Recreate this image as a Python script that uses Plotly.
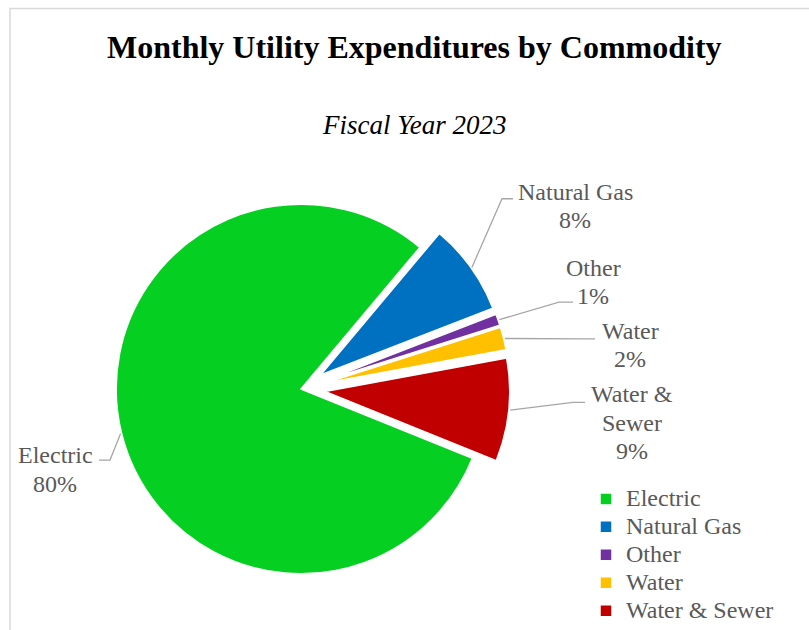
import math
import plotly.graph_objects as go

# ---- data -------------------------------------------------------------
CATEGORIES = ["Electric", "Natural Gas", "Other", "Water", "Water & Sewer"]
SHARE_PCT = [80, 8, 1, 2, 9]
COLORS = ["#05D021", "#0070C0", "#7030A0", "#FFC000", "#C00000"]
PULL = [0, 0.13, 0.13, 0.13, 0.13]

TITLE = "Monthly Utility Expenditures by Commodity"
SUBTITLE = "Fiscal Year 2023"

# ---- layout constants (pixels) ----------------------------------------
W, H = 809, 630
CX, CY, R = 301, 391.5, 186          # pie centre and radius
ROTATION = 112                        # start angle of the first slice (clockwise from 12 o'clock)
LABEL_FONT = 24
LINE_STEP = 28.5
LABEL_COLOR = "#595959"
LEADER_COLOR = "#A6A6A6"
SERIF = "Liberation Serif, Times New Roman, serif"

# label block centre, leader-line elbow and leader-line end
LABEL_BOX = {
    "Electric": dict(center=(55, 472.5), elbow=(110, 463), end=(99, 463)),
    "Natural Gas": dict(center=(575, 207.5), elbow=(502, 200), end=(513, 200)),
    "Other": dict(center=(593, 284), elbow=(559, 304), end=(573, 304)),
    "Water": dict(center=(630, 347.5), elbow=(583, 341), end=(595, 341)),
    "Water & Sewer": dict(center=(632, 425.5), elbow=(573, 405), end=(585, 405)),
}
LABEL_WRAP = {"Water & Sewer": ["Water &", "Sewer"]}


def px(x):
    return x / W


def py(y):
    return 1 - y / H


max_pull = max(PULL)
half_box = R * (1 + max_pull)

legend_names = [f'<span style="font-size:{LABEL_FONT}px">{c}</span>' for c in CATEGORIES]

fig = go.Figure(
    go.Pie(
        labels=legend_names,
        values=SHARE_PCT,
        marker=dict(colors=COLORS, line=dict(color="white", width=1.5)),
        pull=PULL,
        sort=False,
        direction="clockwise",
        rotation=ROTATION,
        textinfo="none",
        hoverinfo="skip",
        domain=dict(
            x=[px(CX - half_box), px(CX + half_box)],
            y=[py(CY + half_box), py(CY - half_box)],
        ),
    )
)

# ---- data labels with leader lines -----------------------------------
total = sum(SHARE_PCT)
annotations = []
shapes = []
start = ROTATION
for name, val, pull in zip(CATEGORIES, SHARE_PCT, PULL):
    span = 360 * val / total
    mid = math.radians(start + span / 2)
    start += span
    reach = R * (1 + pull)
    ax = CX + reach * math.sin(mid)
    ay = CY - reach * math.cos(mid)

    box = LABEL_BOX[name]
    bx, by = box["elbow"]
    ex, ey = box["end"]
    path = f"M{px(ax)},{py(ay)} L{px(bx)},{py(by)} L{px(ex)},{py(ey)}"
    shapes.append(dict(type="path", path=path, xref="paper", yref="paper",
                       line=dict(color=LEADER_COLOR, width=1.3)))

    lines = LABEL_WRAP.get(name, [name]) + [f"{round(100 * val / total)}%"]
    cx, cy = box["center"]
    top = cy - LINE_STEP * (len(lines) - 1) / 2
    for i, txt in enumerate(lines):
        annotations.append(dict(
            text=txt, x=px(cx), y=py(top + i * LINE_STEP),
            xref="paper", yref="paper", xanchor="center", yanchor="middle",
            showarrow=False, font=dict(family=SERIF, size=LABEL_FONT, color=LABEL_COLOR),
        ))

# ---- titles ----------------------------------------------------------
annotations.append(dict(
    text=f"<b>{TITLE}</b>", x=px(415), y=py(47), xref="paper", yref="paper",
    xanchor="center", yanchor="middle", showarrow=False,
    font=dict(family=SERIF, size=32, color="#000000"),
))
annotations.append(dict(
    text=f"<i>{SUBTITLE}</i>", x=px(414), y=py(126), xref="paper", yref="paper",
    xanchor="center", yanchor="middle", showarrow=False,
    font=dict(family=SERIF, size=27, color="#000000"),
))

# chart-area frame
shapes.append(dict(type="rect", xref="paper", yref="paper",
                   x0=px(10), x1=1.05, y0=-0.05, y1=py(8.5),
                   line=dict(color="#D9D9D9", width=1.5)))

fig.update_layout(
    width=W, height=H,
    margin=dict(l=0, r=0, t=0, b=0),
    paper_bgcolor="white", plot_bgcolor="white",
    annotations=annotations,
    shapes=shapes,
    showlegend=True,
    legend=dict(
        x=px(586), y=py(483), xanchor="left", yanchor="top",
        font=dict(family=SERIF, size=19.2, color=LABEL_COLOR),
        bgcolor="rgba(0,0,0,0)", borderwidth=0,
        itemclick=False, itemdoubleclick=False,
    ),
)

fig.write_html("out.html")
